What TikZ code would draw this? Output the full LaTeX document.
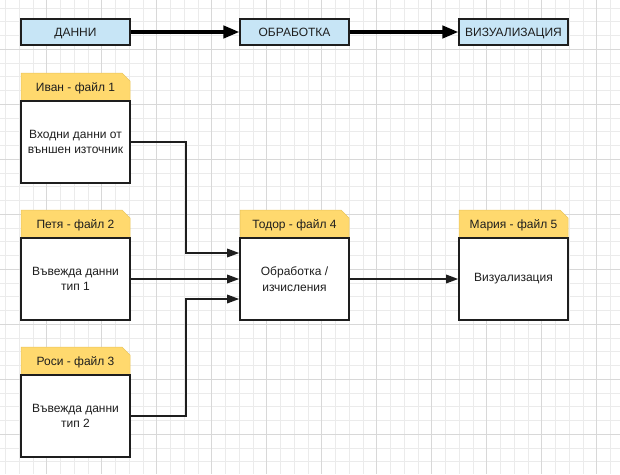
\documentclass[tikz,border=0pt]{standalone}
\usepackage{fontspec}
\setmainfont{Liberation Sans}
\usetikzlibrary{arrows.meta,shapes.misc}
\definecolor{gridminor}{HTML}{EBEBEB}
\definecolor{gridmajor}{HTML}{D8D8D8}
\definecolor{hdrfill}{HTML}{FFD96E}
\definecolor{hdredge}{HTML}{EAC55C}
\definecolor{topfill}{HTML}{C7E5F6}
\definecolor{ink}{HTML}{1E1E1E}
\tikzset{
  txt/.style={font=\fontsize{12}{15.5}\selectfont, text=ink},
  topbox/.style={txt, draw=ink, line width=1.5pt, fill=topfill, minimum width=109pt, minimum height=26pt, inner sep=0pt, text height=8.8pt, text depth=0pt},
  hdr/.style={txt, chamfered rectangle, chamfered rectangle corners=north east, chamfered rectangle sep=4pt, fill=hdrfill, draw=hdredge, line width=0.5pt, minimum width=109pt, minimum height=28pt, inner sep=0pt, text height=8.6pt, text depth=0pt},
  body/.style={txt, draw=ink, line width=1.6pt, fill=white, minimum width=109pt, minimum height=82pt, inner sep=0pt, align=center},
  conn/.style={draw=ink, line width=1.6pt, -{Triangle[length=12pt,width=8.5pt]}},
  bigconn/.style={draw=black, line width=3.2pt, -{Triangle[length=16pt,width=12.5pt]}},
}
\begin{document}
\begin{tikzpicture}[x=1pt,y=-1pt]
\useasboundingbox (0,0) rectangle (620,474);
\fill[white] (0,0) rectangle (620,474);
% grid
\foreach \i in {0,...,44} {
  \pgfmathsetmacro{\gx}{5.45+13.75*\i}
  \draw[gridminor, line width=0.7pt] (\gx,0) -- (\gx,474);
}
\foreach \i in {0,...,34} {
  \pgfmathsetmacro{\gy}{8.05+13.75*\i}
  \draw[gridminor, line width=0.7pt] (0,\gy) -- (620,\gy);
}
\foreach \i in {0,...,11} {
  \pgfmathsetmacro{\gx}{46.7+55*\i}
  \draw[gridmajor, line width=0.9pt] (\gx,0) -- (\gx,474);
}
\foreach \i in {0,...,8} {
  \pgfmathsetmacro{\gy}{49.3+55*\i}
  \draw[gridmajor, line width=0.9pt] (0,\gy) -- (620,\gy);
}
% top row
\node[topbox] (t1) at (75.5,32) {ДАННИ};
\node[topbox] (t2) at (294.5,32) {ОБРАБОТКА};
\node[topbox] (t3) at (513.5,32) {ВИЗУАЛИЗАЦИЯ};
\draw[bigconn] (t1) -- (t2);
\draw[bigconn] (t2) -- (t3);
% file boxes
\node[hdr] (h1) at (75.5,87) {Иван - файл 1};
\node[body] (b1) at (75.5,142) {Входни данни от\\външен източник};
\node[hdr] (h2) at (75.5,224) {Петя - файл 2};
\node[body] (b2) at (75.5,279) {Въвежда данни\\тип 1};
\node[hdr] (h3) at (75.5,361) {Роси - файл 3};
\node[body] (b3) at (75.5,416) {Въвежда данни\\тип 2};
\node[hdr] (h4) at (294.5,224) {Тодор - файл 4};
\node[body] (b4) at (294.5,279) {Обработка /\\изчисления};
\node[hdr] (h5) at (513.5,224) {Мария - файл 5};
\node[body] (b5) at (513.5,279) {Визуализация};
% connectors
\draw[conn] (b1.east) -- ++(55,0) |- ([yshift=26pt]b4.west);
\draw[conn] (b2.east) -- (b4.west);
\draw[conn] (b3.east) -- ++(55,0) |- ([yshift=-20pt]b4.west);
\draw[conn] (b4.east) -- (b5.west);
\end{tikzpicture}
\end{document}
